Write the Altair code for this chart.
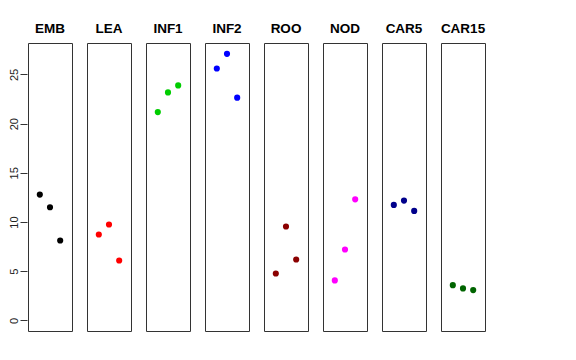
import altair as alt
import pandas as pd

groups = ["EMB", "LEA", "INF1", "INF2", "ROO", "NOD", "CAR5", "CAR15"]
colors = ["#000000", "#FF0000", "#00CD00", "#0000FF", "#8B0000", "#FF00FF", "#00008B", "#006400"]
rep = [1, 2, 3]
emb = [12.79, 11.50, 8.12]
lea = [8.73, 9.75, 6.09]
inf1 = [21.18, 23.18, 23.89]
inf2 = [25.61, 27.10, 22.64]
roo = [4.77, 9.54, 6.19]
nod = [4.06, 7.21, 12.31]
car5 = [11.74, 12.18, 11.13]
car15 = [3.58, 3.25, 3.08]
yticks = [0, 5, 10, 15, 20, 25]

series = [emb, lea, inf1, inf2, roo, nod, car5, car15]
rows = []
for g, vals in zip(groups, series):
    for r, v in zip(rep, vals):
        rows.append({"group": g, "rep": r, "value": v})
df = pd.DataFrame(rows)

base = alt.Chart(df).mark_circle(size=38, opacity=1).encode(
    x=alt.X("rep:Q", scale=alt.Scale(domain=[-0.16, 4.16], nice=False, zero=False), axis=None),
    y=alt.Y("value:Q", scale=alt.Scale(domain=[-1.08, 28.2], nice=False, zero=False),
            axis=alt.Axis(values=yticks, title=None, domain=False, grid=False, tickSize=7,
                          tickColor="#333333", labelAngle=270, labelPadding=1,
                          labelFontSize=11, labelColor="#222222", labelFont="Liberation Sans",
                          labelAlign="center", labelBaseline="bottom")),
    color=alt.Color("group:N", scale=alt.Scale(domain=groups, range=colors), legend=None),
).properties(width=44, height=288)

chart = base.facet(
    column=alt.Column("group:N", sort=groups, title=None,
                      header=alt.Header(labelFontSize=13.5, labelFontWeight="bold", labelFont="Liberation Sans",
                                        labelColor="#000000", labelOrient="top", labelPadding=7)),
    spacing=13,
).configure_view(stroke="#333333", strokeWidth=1).properties(
    padding={"left": 0, "top": 13, "right": 5, "bottom": 5}
)

chart.save("out.html", embed_options={"renderer": "svg", "actions": False})
